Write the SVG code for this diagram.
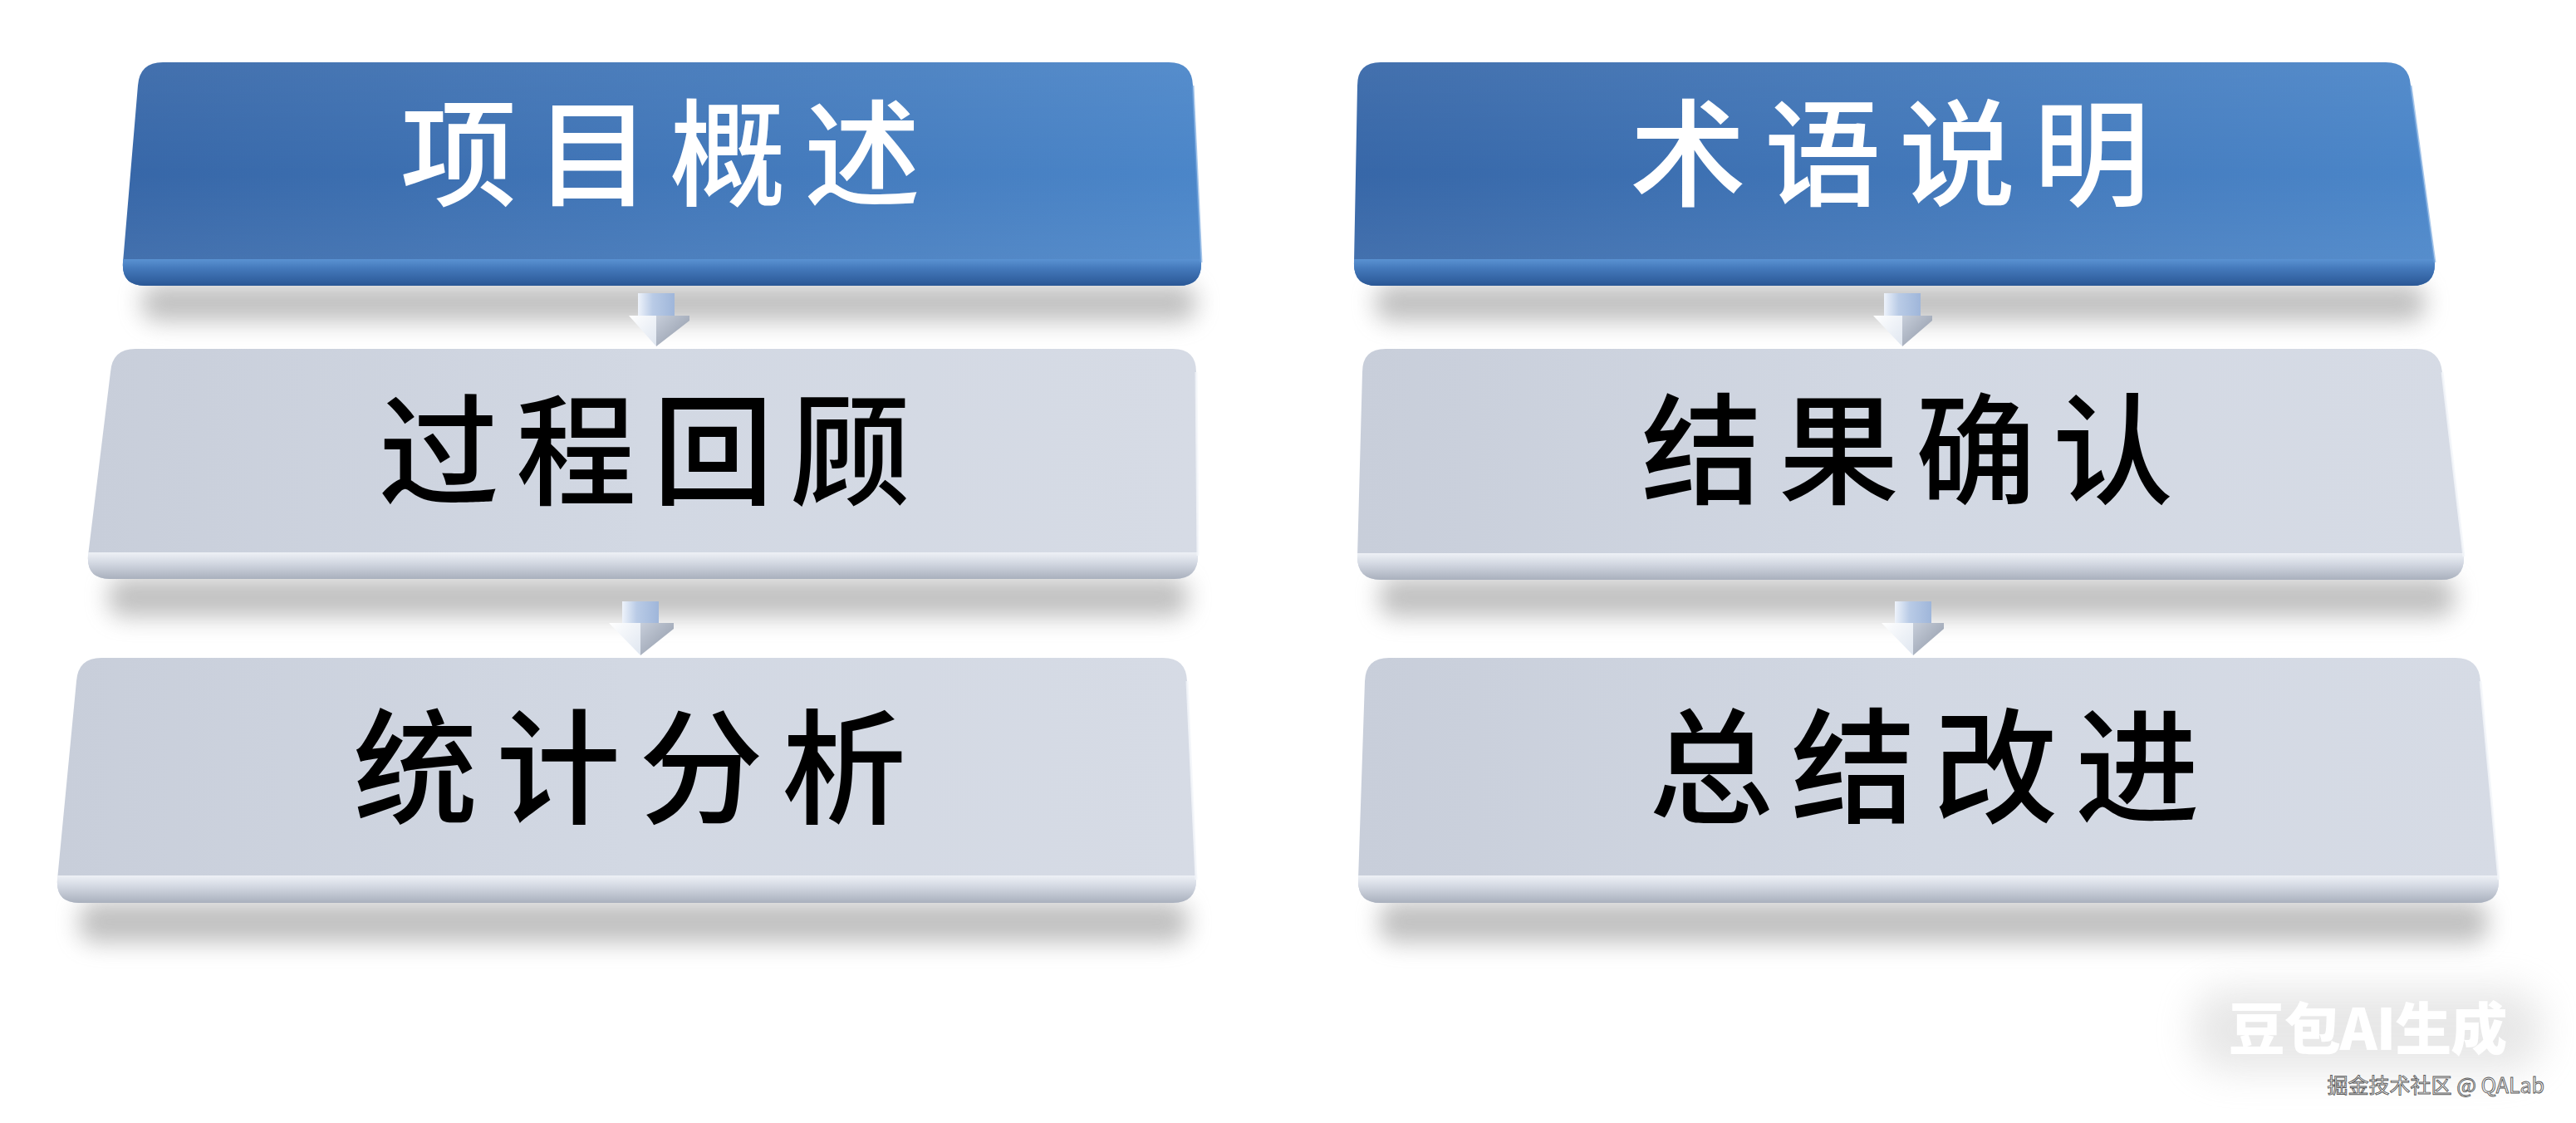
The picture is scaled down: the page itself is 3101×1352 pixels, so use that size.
<svg xmlns="http://www.w3.org/2000/svg" width="3101" height="1352" viewBox="0 0 3101 1352">
<defs>
<linearGradient id="blueH" x1="0" y1="0" x2="1" y2="0"><stop offset="0" stop-color="#3767a8"/><stop offset="1" stop-color="#4b86c9"/></linearGradient>
<linearGradient id="blueV" x1="0" y1="0" x2="0" y2="1"><stop offset="0" stop-color="#ffffff" stop-opacity="0.06"/><stop offset="0.5" stop-color="#ffffff" stop-opacity="0"/><stop offset="1" stop-color="#ffffff" stop-opacity="0.08"/></linearGradient>
<linearGradient id="blueRim" x1="0" y1="0" x2="0" y2="1"><stop offset="0" stop-color="#5a92d2"/><stop offset="0.35" stop-color="#4479bb"/><stop offset="1" stop-color="#2a5795"/></linearGradient>
<linearGradient id="greyH" x1="0" y1="0" x2="1" y2="0"><stop offset="0" stop-color="#c8ceda"/><stop offset="0.5" stop-color="#d2d8e3"/><stop offset="1" stop-color="#d6dbe5"/></linearGradient>
<linearGradient id="greyRim" x1="0" y1="0" x2="0" y2="1"><stop offset="0" stop-color="#eef1f6"/><stop offset="0.4" stop-color="#d3d8e2"/><stop offset="1" stop-color="#a9b0bd"/></linearGradient>
<linearGradient id="shaft" x1="0" y1="0" x2="1" y2="0"><stop offset="0" stop-color="#eef3fb"/><stop offset="0.4" stop-color="#b9cbe6"/><stop offset="1" stop-color="#9fb6da"/></linearGradient>
<linearGradient id="headL" x1="0" y1="0" x2="1" y2="1"><stop offset="0" stop-color="#ffffff"/><stop offset="1" stop-color="#dfe6f0"/></linearGradient>
<linearGradient id="headR" x1="0" y1="0" x2="1" y2="1"><stop offset="0" stop-color="#c7ceda"/><stop offset="1" stop-color="#8d96a6"/></linearGradient>
<filter id="blur" x="-10%" y="-100%" width="120%" height="300%"><feGaussianBlur stdDeviation="14"/></filter>
<filter id="glow" x="-30%" y="-60%" width="160%" height="220%"><feGaussianBlur stdDeviation="22"/></filter>
</defs>
<style>
.face-blue{fill:url(#blueH);}
.gloss-blue{fill:url(#blueV);}
.rim-blue{fill:url(#blueRim);}
.face-grey{fill:url(#greyH);}
.rim-grey{fill:url(#greyRim);}
.shadow{fill:#8e8e8e;opacity:0.55;filter:url(#blur);}
.lbl{font-family:"Noto Sans CJK SC","Noto Sans",sans-serif;font-weight:500;text-anchor:middle;}
.lbl-w{fill:#ffffff;}
.lbl-b{fill:#000000;}
.edge-blue{fill:none;stroke:#6ea2dc;stroke-width:3;opacity:0.6;}
.edge-grey{fill:none;stroke:#f4f6fa;stroke-width:3;opacity:0.8;}
</style>
<rect width="3101" height="1352" fill="#ffffff"/>

<g id="shadows">
<rect class="shadow" x="170" y="342" width="1270" height="45" rx="20"/>
<rect class="shadow" x="130" y="695" width="1300" height="48" rx="20"/>
<rect class="shadow" x="95" y="1085" width="1335" height="50" rx="20"/>
<rect class="shadow" x="1655" y="342" width="1265" height="45" rx="20"/>
<rect class="shadow" x="1660" y="695" width="1295" height="48" rx="20"/>
<rect class="shadow" x="1660" y="1085" width="1335" height="50" rx="20"/>
</g>

<g id="connectors">
<g id="arrow-1">
<rect x="768" y="353" width="44" height="30" fill="url(#shaft)"/>
<polygon points="757,380 790,380 790,417" fill="url(#headL)"/>
<polygon points="790,380 830,380 830,386 790,417" fill="url(#headR)"/>
</g>
<g id="arrow-2">
<rect x="749" y="724" width="44" height="30" fill="url(#shaft)"/>
<polygon points="733,750 771,750 771,789" fill="url(#headL)"/>
<polygon points="771,750 811,750 811,757 771,789" fill="url(#headR)"/>
</g>
<g id="arrow-3">
<rect x="2268" y="353" width="44" height="30" fill="url(#shaft)"/>
<polygon points="2255,380 2290,380 2290,417" fill="url(#headL)"/>
<polygon points="2290,380 2326,380 2326,386 2290,417" fill="url(#headR)"/>
</g>
<g id="arrow-4">
<rect x="2281" y="724" width="44" height="30" fill="url(#shaft)"/>
<polygon points="2265,750 2303,750 2303,789" fill="url(#headL)"/>
<polygon points="2303,750 2340,750 2340,757 2303,789" fill="url(#headR)"/>
</g>
</g>

<g id="node-xiangmugaishu">
<path class="face-blue" d="M196,75 L1407,75 Q1435,75 1436,103 L1446,316 Q1447,344 1419,344 L174,344 Q146,344 148,316 L166,103 Q168,75 196,75 Z"/>
<path class="gloss-blue" d="M196,75 L1407,75 Q1435,75 1436,103 L1446,316 Q1447,344 1419,344 L174,344 Q146,344 148,316 L166,103 Q168,75 196,75 Z"/>
<path class="rim-blue" d="M148,312 L1445,312 L1446,316 Q1447,344 1419,344 L174,344 Q146,344 148,316 Z"/>
<path class="edge-blue" d="M1436,103 L1446,316"/>
<text class="lbl lbl-w" x="806" y="237" font-size="140" letter-spacing="22">项目概述</text>
</g>

<g id="node-guochenghuigu">
<path class="face-grey" d="M163,420 L1412,420 Q1440,420 1440,448 L1442,669 Q1442,697 1414,697 L132,697 Q104,697 106,669 L133,448 Q135,420 163,420 Z"/>
<path class="rim-grey" d="M106,665 L1442,665 L1442,669 Q1442,697 1414,697 L132,697 Q104,697 106,669 Z"/>
<path class="edge-grey" d="M1440,448 L1442,669"/>
<text class="lbl lbl-b" x="786" y="597" font-size="145" letter-spacing="20">过程回顾</text>
</g>

<g id="node-tongjifenxi">
<path class="face-grey" d="M122,792 L1400,792 Q1428,792 1429,820 L1440,1059 Q1440,1087 1412,1087 L95,1087 Q67,1087 69,1059 L92,820 Q94,792 122,792 Z"/>
<path class="rim-grey" d="M69,1054 L1439,1054 L1440,1059 Q1440,1087 1412,1087 L95,1087 Q67,1087 69,1059 Z"/>
<path class="edge-grey" d="M1429,820 L1440,1059"/>
<text class="lbl lbl-b" x="769" y="980" font-size="150" letter-spacing="22">统计分析</text>
</g>

<g id="node-shuyushuoming">
<path class="face-blue" d="M1662,75 L2872,75 Q2900,75 2902,103 L2931,316 Q2932,344 2904,344 L1657,344 Q1629,344 1630,316 L1634,103 Q1634,75 1662,75 Z"/>
<path class="gloss-blue" d="M1662,75 L2872,75 Q2900,75 2902,103 L2931,316 Q2932,344 2904,344 L1657,344 Q1629,344 1630,316 L1634,103 Q1634,75 1662,75 Z"/>
<path class="rim-blue" d="M1630,312 L2930,312 L2931,316 Q2932,344 2904,344 L1657,344 Q1629,344 1630,316 Z"/>
<path class="edge-blue" d="M2902,103 L2931,316"/>
<text class="lbl lbl-w" x="2286" y="237" font-size="140" letter-spacing="22">术语说明</text>
</g>

<g id="node-jieguoqueren">
<path class="face-grey" d="M1668,420 L2909,420 Q2937,420 2940,448 L2966,670 Q2967,698 2939,698 L1662,698 Q1634,698 1634,670 L1640,448 Q1640,420 1668,420 Z"/>
<path class="rim-grey" d="M1634,666 L2965,666 L2966,670 Q2967,698 2939,698 L1662,698 Q1634,698 1634,670 Z"/>
<path class="edge-grey" d="M2940,448 L2966,670"/>
<text class="lbl lbl-b" x="2306" y="596" font-size="145" letter-spacing="20">结果确认</text>
</g>

<g id="node-zongjiegaijin">
<path class="face-grey" d="M1672,792 L2956,792 Q2984,792 2986,820 L3008,1059 Q3009,1087 2981,1087 L1662,1087 Q1634,1087 1635,1059 L1643,820 Q1644,792 1672,792 Z"/>
<path class="rim-grey" d="M1635,1054 L3007,1054 L3008,1059 Q3009,1087 2981,1087 L1662,1087 Q1634,1087 1635,1059 Z"/>
<path class="edge-grey" d="M2986,820 L3008,1059"/>
<text class="lbl lbl-b" x="2327" y="979" font-size="150" letter-spacing="21">总结改进</text>
</g>

<g id="watermark">
<rect x="2640" y="1190" width="420" height="100" rx="40" fill="#bdbdbd" opacity="0.35" filter="url(#glow)"/>
<text x="2850" y="1264" font-family="'Noto Sans CJK SC','Noto Sans',sans-serif" font-weight="900" font-size="68" fill="#ffffff" text-anchor="middle" letter-spacing="-1">豆包AI生成</text>
<text x="3063" y="1316" font-family="'Noto Sans CJK SC','Noto Sans',sans-serif" font-size="25" fill="#f4f4f4" stroke="#5a5a5a" stroke-width="0.9" text-anchor="end">掘金技术社区 @ QALab</text>
</g>
</svg>
